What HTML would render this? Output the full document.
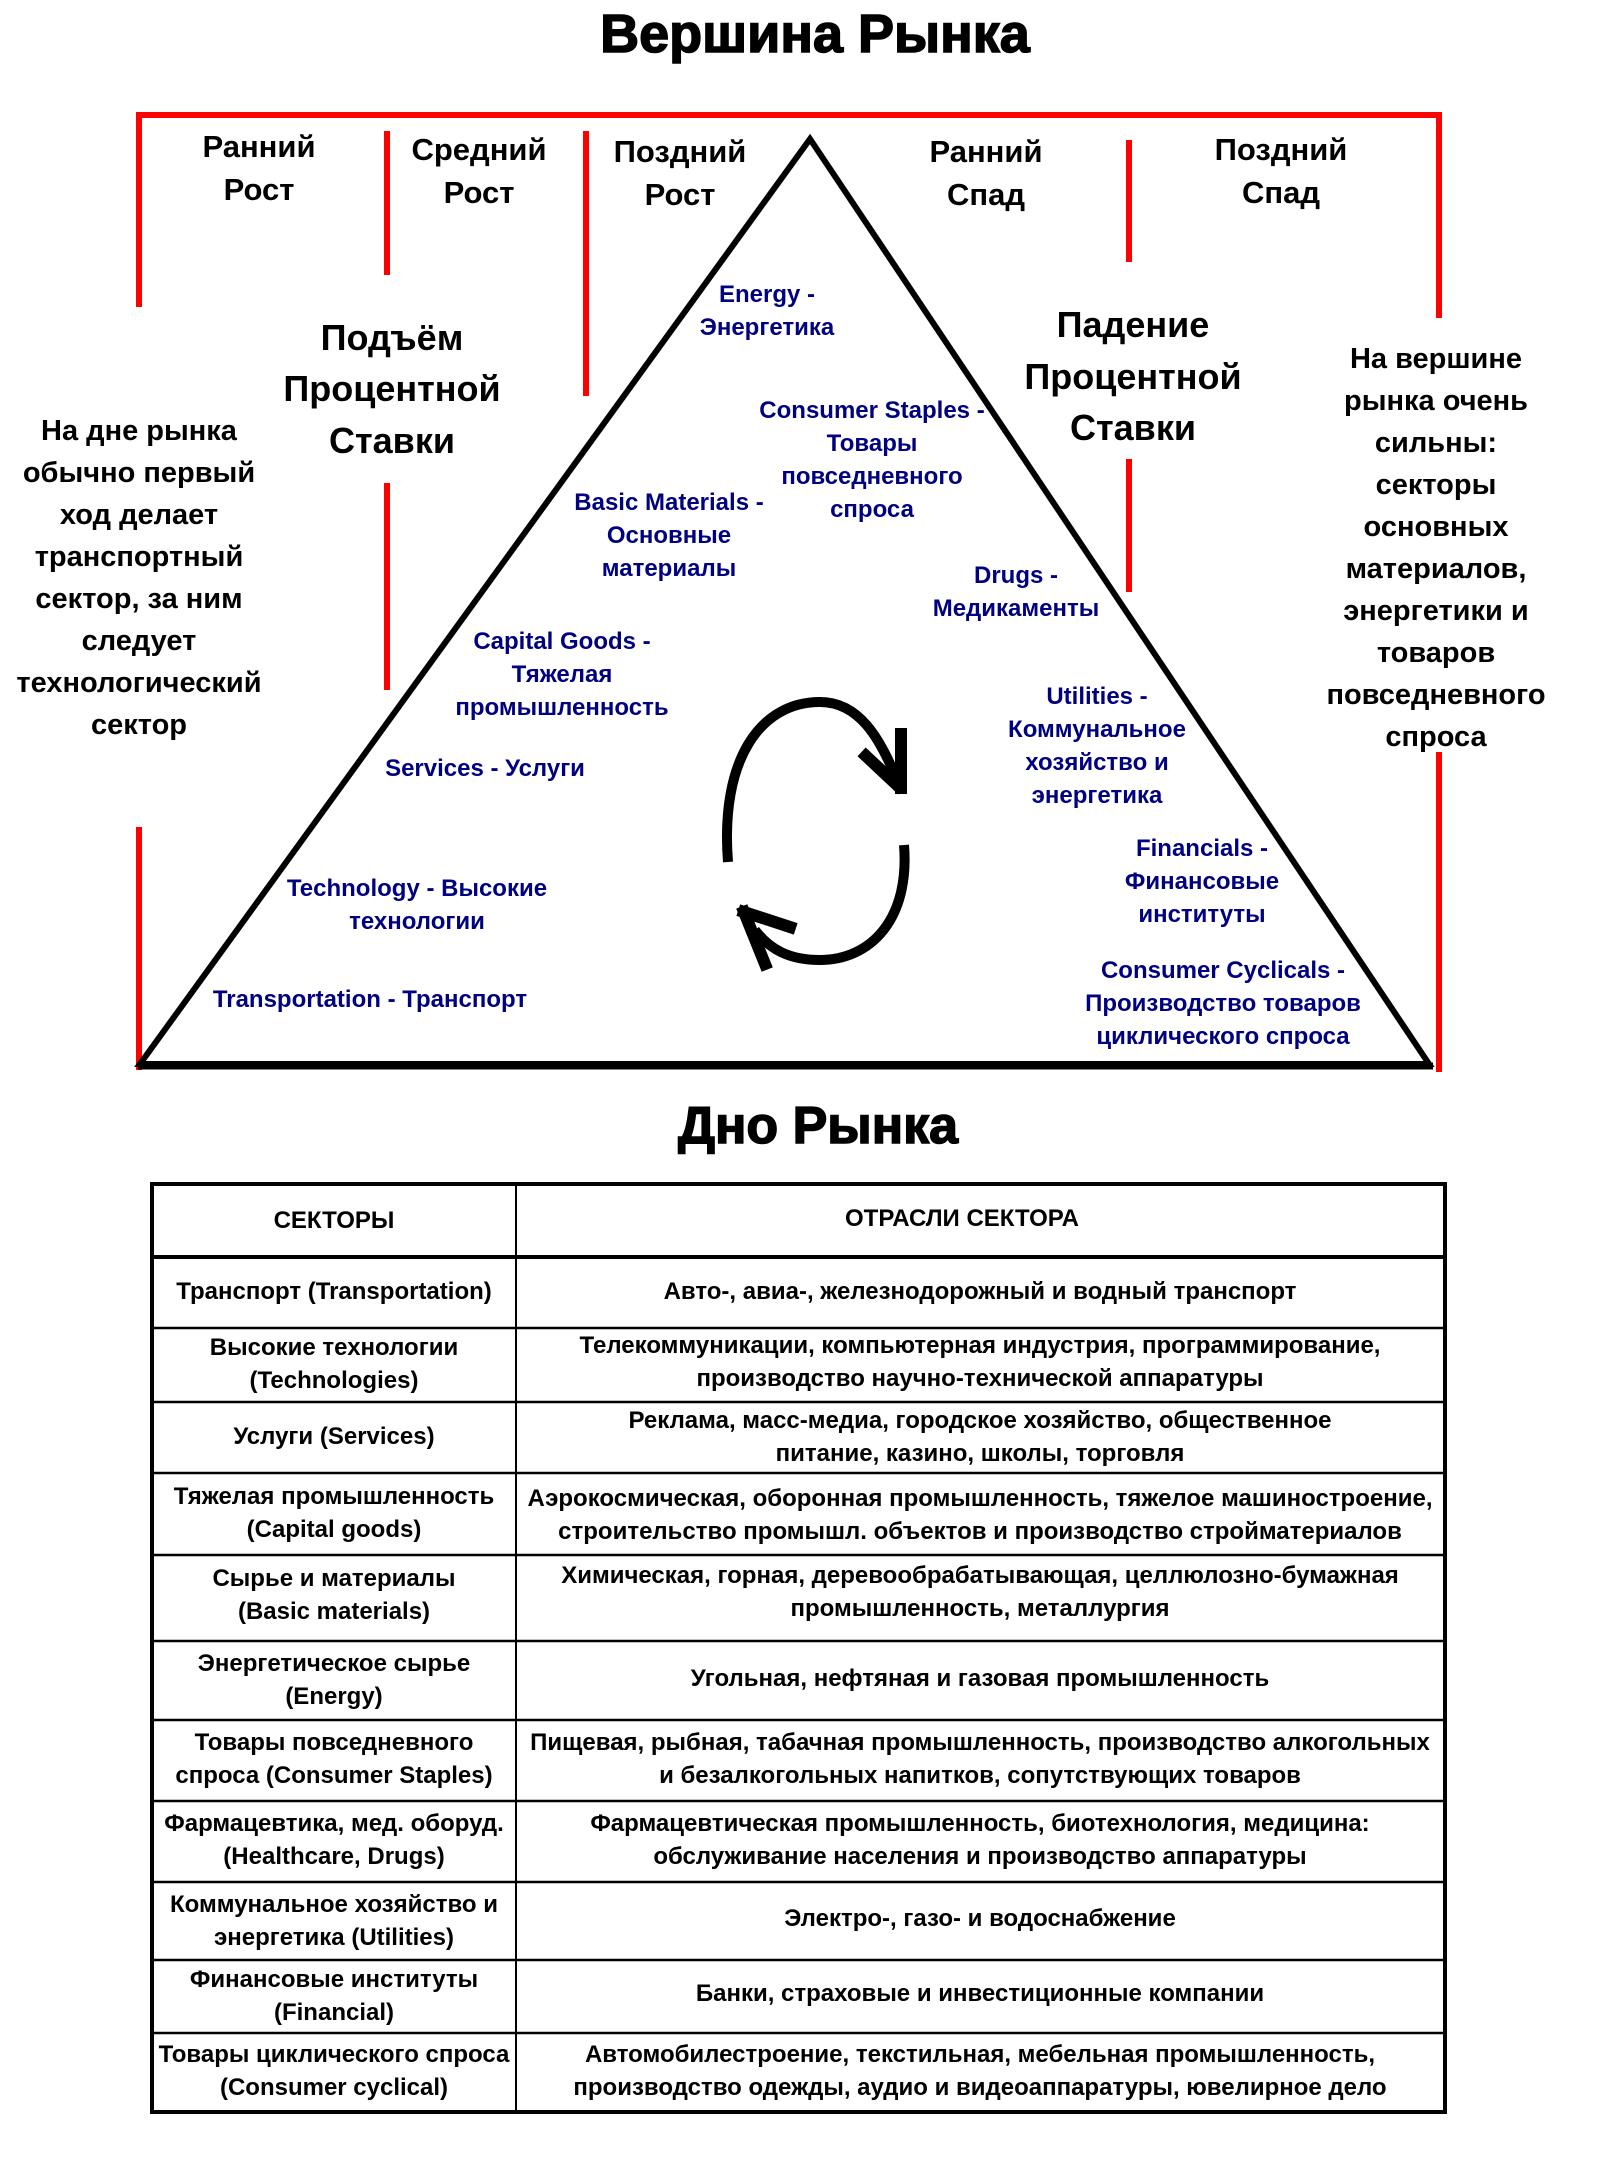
<!DOCTYPE html>
<html><head><meta charset="utf-8"><style>
html,body{margin:0;padding:0;background:#fff;}
svg{display:block;}
text{font-family:"Liberation Sans",Arial,sans-serif;font-weight:bold;}
.b{fill:#000080;font-size:24px;}
.k{fill:#000;}
</style></head><body>
<svg width="1597" height="2161" viewBox="0 0 1597 2161" xmlns="http://www.w3.org/2000/svg">
<text x="815" y="52" text-anchor="middle" font-size="54" class="k" stroke="#000" stroke-width="1.5">Вершина Рынка</text>
<g stroke="#ff0000" stroke-width="6" fill="none">
<polyline points="139,307 139,115 1439,115 1439,318"/>
<line x1="139" y1="827" x2="139" y2="1070"/>
<line x1="1439" y1="752" x2="1439" y2="1072"/>
<line x1="387" y1="131" x2="387" y2="275"/>
<line x1="387" y1="483" x2="387" y2="690"/>
<line x1="586" y1="131" x2="586" y2="396"/>
<line x1="1129" y1="140" x2="1129" y2="262"/>
<line x1="1129" y1="459" x2="1129" y2="592"/>
</g>
<polygon points="810,139 140,1064 1429,1064" fill="none" stroke="#000" stroke-width="6" stroke-linejoin="miter"/>
<line x1="138" y1="1066" x2="1433" y2="1066" stroke="#000" stroke-width="7"/>
<g stroke="#000" stroke-width="10" fill="none">
<path d="M728,862 C720,760 760,702 820,702 C860,702 880,740 895,775"/>
<path d="M904,845 C910,920 870,960 820,960 C790,960 770,950 755,930"/>
</g>
<g stroke="#000" stroke-width="12" fill="none" stroke-linecap="square">
<line x1="866" y1="756" x2="898" y2="786"/>
<line x1="901" y1="734" x2="901" y2="788"/>
<line x1="744" y1="912" x2="790" y2="927"/>
<line x1="744" y1="912" x2="765" y2="964"/>
</g>
<g class="k" font-size="31" text-anchor="middle">
<text x="259" y="157">Ранний</text><text x="259" y="200">Рост</text>
<text x="479" y="160">Средний</text><text x="479" y="203">Рост</text>
<text x="680" y="162">Поздний</text><text x="680" y="205">Рост</text>
<text x="986" y="162">Ранний</text><text x="986" y="205">Спад</text>
<text x="1281" y="160">Поздний</text><text x="1281" y="203">Спад</text>
</g>
<g class="k" font-size="36" text-anchor="middle">
<text x="392" y="350">Подъём</text><text x="392" y="401">Процентной</text><text x="392" y="453">Ставки</text>
<text x="1133" y="337">Падение</text><text x="1133" y="389">Процентной</text><text x="1133" y="440">Ставки</text>
</g>
<g class="k" font-size="29" text-anchor="middle">
<text x="139" y="440">На дне рынка</text>
<text x="139" y="482">обычно первый</text>
<text x="139" y="524">ход делает</text>
<text x="139" y="566">транспортный</text>
<text x="139" y="608">сектор, за ним</text>
<text x="139" y="650">следует</text>
<text x="139" y="692">технологический</text>
<text x="139" y="734">сектор</text>
<text x="1436" y="368">На вершине</text>
<text x="1436" y="410">рынка очень</text>
<text x="1436" y="452">сильны:</text>
<text x="1436" y="494">секторы</text>
<text x="1436" y="536">основных</text>
<text x="1436" y="578">материалов,</text>
<text x="1436" y="620">энергетики и</text>
<text x="1436" y="662">товаров</text>
<text x="1436" y="704">повседневного</text>
<text x="1436" y="746">спроса</text>
</g>
<g class="b" text-anchor="middle">
<text x="767" y="302">Energy -</text><text x="767" y="335">Энергетика</text>
<text x="872" y="418">Consumer Staples -</text><text x="872" y="451">Товары</text><text x="872" y="484">повседневного</text><text x="872" y="517">спроса</text>
<text x="669" y="510">Basic Materials -</text><text x="669" y="543">Основные</text><text x="669" y="576">материалы</text>
<text x="1016" y="583">Drugs -</text><text x="1016" y="616">Медикаменты</text>
<text x="562" y="649">Capital Goods -</text><text x="562" y="682">Тяжелая</text><text x="562" y="715">промышленность</text>
<text x="1097" y="704">Utilities -</text><text x="1097" y="737">Коммунальное</text><text x="1097" y="770">хозяйство и</text><text x="1097" y="803">энергетика</text>
<text x="485" y="776">Services - Услуги</text>
<text x="1202" y="856">Financials -</text><text x="1202" y="889">Финансовые</text><text x="1202" y="922">институты</text>
<text x="417" y="896">Technology - Высокие</text><text x="417" y="929">технологии</text>
<text x="1223" y="978">Consumer Cyclicals -</text><text x="1223" y="1011">Производство товаров</text><text x="1223" y="1044">циклического спроса</text>
<text x="370" y="1007">Transportation - Транспорт</text>
</g>
<text x="818" y="1143" text-anchor="middle" font-size="52" class="k" stroke="#000" stroke-width="1.5">Дно Рынка</text>
<g stroke="#000" fill="none">
<rect x="152" y="1184" width="1293" height="928" stroke-width="4"/>
<line x1="152" y1="1257" x2="1445" y2="1257" stroke-width="4"/>
<line x1="516" y1="1184" x2="516" y2="2112" stroke-width="2"/>
<g stroke-width="2.5">
<line x1="152" y1="1328" x2="1445" y2="1328"/>
<line x1="152" y1="1402" x2="1445" y2="1402"/>
<line x1="152" y1="1473" x2="1445" y2="1473"/>
<line x1="152" y1="1555" x2="1445" y2="1555"/>
<line x1="152" y1="1641" x2="1445" y2="1641"/>
<line x1="152" y1="1720" x2="1445" y2="1720"/>
<line x1="152" y1="1801" x2="1445" y2="1801"/>
<line x1="152" y1="1882" x2="1445" y2="1882"/>
<line x1="152" y1="1960" x2="1445" y2="1960"/>
<line x1="152" y1="2033" x2="1445" y2="2033"/>
</g>
</g>
<g class="k" font-size="24" text-anchor="middle">
<text x="334" y="1228">СЕКТОРЫ</text>
<text x="962" y="1226">ОТРАСЛИ СЕКТОРА</text>
<text x="334" y="1299">Транспорт (Transportation)</text>
<text x="980" y="1299">Авто-, авиа-, железнодорожный и водный транспорт</text>
<text x="334" y="1355">Высокие технологии</text><text x="334" y="1388">(Technologies)</text>
<text x="980" y="1353">Телекоммуникации, компьютерная индустрия, программирование,</text><text x="980" y="1386">производство научно-технической аппаратуры</text>
<text x="334" y="1444">Услуги (Services)</text>
<text x="980" y="1428">Реклама, масс-медиа, городское хозяйство, общественное</text><text x="980" y="1461">питание, казино, школы, торговля</text>
<text x="334" y="1504">Тяжелая промышленность</text><text x="334" y="1537">(Capital goods)</text>
<text x="980" y="1506">Аэрокосмическая, оборонная промышленность, тяжелое машиностроение,</text><text x="980" y="1539">строительство промышл. объектов и производство стройматериалов</text>
<text x="334" y="1586">Сырье и материалы</text><text x="334" y="1619">(Basic materials)</text>
<text x="980" y="1583">Химическая, горная, деревообрабатывающая, целлюлозно-бумажная</text><text x="980" y="1616">промышленность, металлургия</text>
<text x="334" y="1671">Энергетическое сырье</text><text x="334" y="1704">(Energy)</text>
<text x="980" y="1686">Угольная, нефтяная и газовая промышленность</text>
<text x="334" y="1750">Товары повседневного</text><text x="334" y="1783">спроса (Consumer Staples)</text>
<text x="980" y="1750">Пищевая, рыбная, табачная промышленность, производство алкогольных</text><text x="980" y="1783">и безалкогольных напитков, сопутствующих товаров</text>
<text x="334" y="1831">Фармацевтика, мед. оборуд.</text><text x="334" y="1864">(Healthcare, Drugs)</text>
<text x="980" y="1831">Фармацевтическая промышленность, биотехнология, медицина:</text><text x="980" y="1864">обслуживание населения и производство аппаратуры</text>
<text x="334" y="1912">Коммунальное хозяйство и</text><text x="334" y="1945">энергетика (Utilities)</text>
<text x="980" y="1926">Электро-, газо- и водоснабжение</text>
<text x="334" y="1987">Финансовые институты</text><text x="334" y="2020">(Financial)</text>
<text x="980" y="2001">Банки, страховые и инвестиционные компании</text>
<text x="334" y="2062">Товары циклического спроса</text><text x="334" y="2095">(Consumer  cyclical)</text>
<text x="980" y="2062">Автомобилестроение, текстильная, мебельная промышленность,</text><text x="980" y="2095">производство одежды, аудио и видеоаппаратуры, ювелирное дело</text>
</g>
</svg>
</body></html>
